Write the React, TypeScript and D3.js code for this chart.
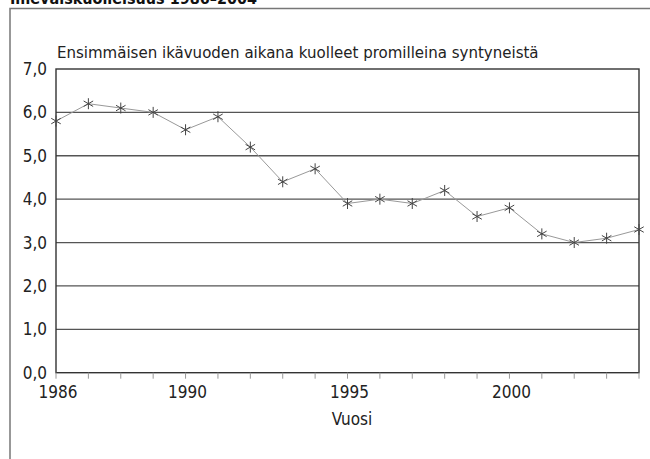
import React from "react";
import * as d3 from "d3";

const years: number[] = [1986, 1987, 1988, 1989, 1990, 1991, 1992, 1993, 1994, 1995, 1996, 1997, 1998, 1999, 2000, 2001, 2002, 2003, 2004];
const rates: number[] = [5.8, 6.2, 6.1, 6.0, 5.6, 5.9, 5.2, 4.4, 4.7, 3.9, 4.0, 3.9, 4.2, 3.6, 3.8, 3.2, 3.0, 3.1, 3.3];
const yTicks: number[] = [0, 1, 2, 3, 4, 5, 6, 7];
const xLabelYears: number[] = [1986, 1990, 1995, 2000];
const heading = "Imeväiskuolleisuus 1986–2004";
const chartTitle = "Ensimmäisen ikävuoden aikana kuolleet promilleina syntyneistä";
const xTitle = "Vuosi";

const W = 650;
const H = 459;
const left = 56;
const right = 639;
const top = 69;
const bottom = 372.7;

const font = "'Liberation Sans Narrow', 'Arial Narrow', 'DejaVu Sans Condensed', sans-serif";

export default function App() {
  const x = d3.scaleLinear().domain([1986, 2004]).range([left, right]);
  const y = d3.scaleLinear().domain([0, 7]).range([bottom, top]);
  const line = d3
    .line<number>()
    .x((_, i) => x(years[i]))
    .y((d) => y(d));
  const fmt = (v: number) => v.toFixed(1).replace(".", ",");
  const star = (cx: number, cy: number, r: number) => {
    const parts: string[] = [];
    for (let k = 0; k < 3; k++) {
      const a = (Math.PI / 3) * k + Math.PI / 2;
      const dx = Math.cos(a) * r;
      const dy = Math.sin(a) * r;
      parts.push(`M${cx - dx},${cy - dy}L${cx + dx},${cy + dy}`);
    }
    return parts.join("");
  };
  return (
    <svg
      width={W}
      height={H}
      style={{ position: "absolute", left: 0, top: 0, background: "#fff" }}
    >
      <rect x={0} y={0} width={W} height={H} fill="#fff" />
      <text x={10} y={4} fontFamily={font} fontWeight="bold" fontSize={16} fill="#111">
        {heading}
      </text>
      {/* outer frame */}
      <path d={`M10,${H}L10,8.5L${W},8.5`} fill="none" stroke="#777" strokeWidth={1.5} />
      <text x={57} y={58} fontFamily={font} fontSize={16.7} fill="#222">
        {chartTitle}
      </text>
      {/* gridlines */}
      {yTicks
        .filter((t) => t > 0 && t < 7)
        .map((t) => (
          <line
            key={"g" + t}
            x1={left}
            x2={right}
            y1={y(t)}
            y2={y(t)}
            stroke="#555"
            strokeWidth={1.3}
          />
        ))}
      {/* frame */}
      <rect
        x={left}
        y={top}
        width={right - left}
        height={bottom - top}
        fill="none"
        stroke="#333"
        strokeWidth={1.4}
      />
      {/* x ticks */}
      {years.map((yr) => (
        <line
          key={"t" + yr}
          x1={x(yr)}
          x2={x(yr)}
          y1={bottom}
          y2={bottom + 6}
          stroke="#999"
          strokeWidth={1}
        />
      ))}
      {/* y labels */}
      {yTicks.map((t) => (
        <text
          key={"y" + t}
          x={47}
          y={y(t) + 1}
          textAnchor="end"
          dominantBaseline="middle"
          fontFamily={font}
          fontSize={17}
          fill="#222"
        >
          {fmt(t)}
        </text>
      ))}
      {/* x labels */}
      {xLabelYears.map((yr) => (
        <text
          key={"x" + yr}
          x={x(yr) + 2}
          y={398}
          textAnchor="middle"
          fontFamily={font}
          fontSize={17}
          fill="#222"
        >
          {yr}
        </text>
      ))}
      <text x={352} y={425} textAnchor="middle" fontFamily={font} fontSize={17} fill="#222">
        {xTitle}
      </text>
      {/* data line */}
      <path d={line(rates) || ""} fill="none" stroke="#999" strokeWidth={1} />
      {rates.map((v, i) => (
        <path
          key={"m" + i}
          d={star(x(years[i]), y(v), 5.5)}
          stroke="#444"
          strokeWidth={1}
          fill="none"
        />
      ))}
    </svg>
  );
}
